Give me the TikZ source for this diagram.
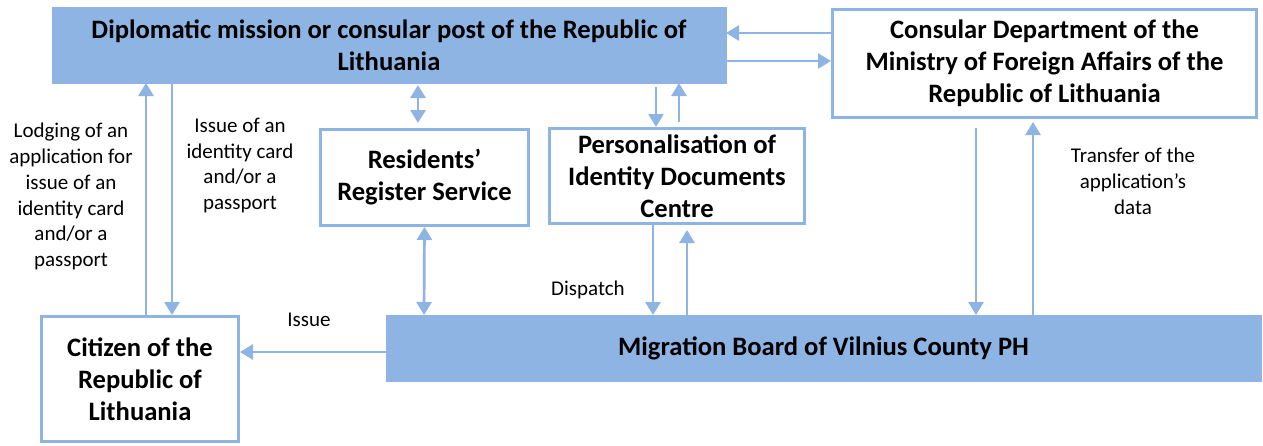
\documentclass[tikz,border=0pt]{standalone}
\usepackage{fontspec}
\setmainfont{Carlito}
\usepackage{tikz}
\usetikzlibrary{arrows.meta,positioning}
\definecolor{lblue}{RGB}{142, 180, 227}
\tikzstyle{filled} = [rectangle, draw=lblue, fill=lblue, line width=0pt, text=black, align=center, font={\fontsize{26.6}{32}\selectfont\bfseries}, inner sep=0pt]
\tikzstyle{framed} = [rectangle, draw=lblue, fill=white, line width=3pt, text=black, align=center, font={\fontsize{26.6}{32}\selectfont\bfseries}, inner sep=0pt]
\tikzstyle{lbl} = [align=center, text=black, font={\fontsize{21}{25.8}\selectfont}, inner sep=0pt]
\tikzstyle{tedge} = [draw=lblue, line width=2.7pt, -{Triangle[length=13pt,width=15pt]}]
\tikzstyle{tboth} = [draw=lblue, line width=2.7pt, {Triangle[length=13pt,width=15pt]}-{Triangle[length=13pt,width=15pt]}]

\begin{document}
\begin{tikzpicture}[x=1pt, y=-1pt]

\fill[white] (0,0) rectangle (1263,445);
\useasboundingbox (0,0) rectangle (1263,445);

% boxes =============================

\node[filled, minimum width=674pt, minimum height=76pt] (dipl) at (389,45) {Diplomatic mission or consular post of the Republic of\\Lithuania};
\node[framed, minimum width=424pt, minimum height=108pt] (consul) at (1044.5,63.5) {Consular Department of the\\Ministry of Foreign Affairs of the\\Republic of Lithuania};
\node[framed, minimum width=208pt, minimum height=96pt] (resid) at (424.5,177.5) {Residents’\\Register Service};
\node[framed, minimum width=255pt, minimum height=95pt] (perso) at (677,176) {Personalisation of\\Identity Documents\\Centre};
\node[filled, minimum width=875pt, minimum height=66pt] (migr) at (823.5,348) {Migration Board of Vilnius County PH};
\node[framed, minimum width=197pt, minimum height=125pt] (citizen) at (140,379) {Citizen of the\\Republic of\\Lithuania};

% labels
\node[lbl] (lodge) at (71,196.5) {Lodging of an\\application for\\issue of an\\identity card\\and/or a\\passport};
\node[lbl] (issuedoc) at (240,165.5) {Issue of an\\identity card\\and/or a\\passport};
\node[lbl] (dispatch) at (588,290) {Dispatch};
\node[lbl] (issue) at (309,320) {Issue};
\node[lbl] (transfer) at (1133,181) {Transfer of the\\application’s\\data};

%edges
\path[tedge] ([xshift=6pt]citizen.north) -- ([xshift=-243pt]dipl.south);
\path[tedge] ([xshift=-217pt]dipl.south) -- ([xshift=32pt]citizen.north);

\path[tboth, shorten <=2pt, shorten >=5pt] ([xshift=29pt]dipl.south) -- ([xshift=-6.5pt]resid.north);
\path[tboth] (resid.south) -- ([xshift=-399.5pt]migr.north);

\path[tedge, shorten <=4pt] ([xshift=267pt]dipl.south) -- ([xshift=-21pt]perso.north);
\path[tedge, shorten <=5pt] ([xshift=2pt]perso.north) -- ([xshift=290pt]dipl.south);
\path[tedge] ([xshift=-24pt]perso.south) -- ([xshift=-170.5pt]migr.north);
\path[tedge, shorten >=5pt] ([xshift=-136.5pt]migr.north) -- ([xshift=10pt]perso.south);

\path[tedge, shorten <=9pt] ([xshift=-68.5pt]consul.south) -- ([xshift=152.5pt]migr.north);
\path[tedge, shorten >=3pt] ([xshift=209.5pt]migr.north) -- ([xshift=-11.5pt]consul.south);

\path[tedge] ([yshift=30.5pt]consul.west) -- ([yshift=12pt]dipl.east);
\path[tedge] ([yshift=-16pt]dipl.east) -- ([yshift=2.5pt]consul.west);

\path[tedge] ([yshift=-4pt]migr.west) -- ([yshift=27pt]citizen.east);

\end{tikzpicture}
\end{document}
